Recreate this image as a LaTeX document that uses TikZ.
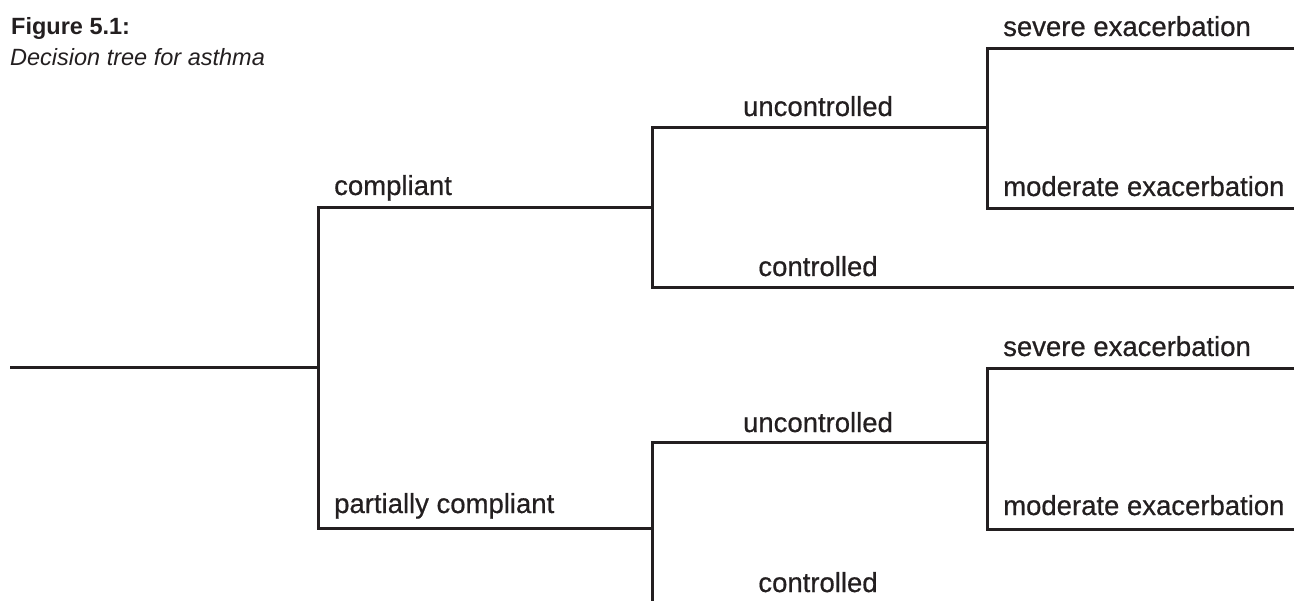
\documentclass[tikz,border=0pt]{standalone}
\usepackage{fontspec}
\setmainfont{Liberation Sans}
\newfontfamily\medfont{Liberation Sans}[FakeBold=0.6]
\definecolor{ink}{HTML}{231F20}
\begin{document}
\begin{tikzpicture}[x=1pt,y=-1pt,
  branch/.style={draw=ink,line width=3pt,line cap=butt,line join=miter},
  lbl/.style={anchor=base west,inner sep=0pt,text=ink,font=\medfont\fontsize{27.5}{30}\selectfont},
  clbl/.style={anchor=base,inner sep=0pt,text=ink,font=\medfont\fontsize{27.5}{30}\selectfont},
  ttl/.style={anchor=base west,inner sep=0pt,text=ink}]
\useasboundingbox (0,0) rectangle (1301,601);
% title
\node[ttl,font=\fontsize{23.5}{26}\selectfont\bfseries] (fig) at (11,35) {Figure 5.1:};
\node[ttl,font=\fontsize{23.5}{26}\selectfont\itshape] (cap) at (10,66) {Decision tree for asthma};
% coordinates
\coordinate (r0) at (10,368);
\coordinate (r1) at (318,368);
\coordinate (c0) at (318,208);
\coordinate (c1) at (652,208);
\coordinate (p0) at (318,528);
\coordinate (p1) at (652,528);
\coordinate (cu0) at (652,128);
\coordinate (cu1) at (987,128);
\coordinate (cc0) at (652,288);
\coordinate (cc1) at (1294,288);
\coordinate (cs0) at (987,49);
\coordinate (cs1) at (1294,49);
\coordinate (cm0) at (987,209);
\coordinate (cm1) at (1294,209);
\coordinate (pu0) at (652,442);
\coordinate (pu1) at (987,442);
\coordinate (pc0) at (652,601);
\coordinate (ps0) at (987,369);
\coordinate (ps1) at (1294,369);
\coordinate (pm0) at (987,529);
\coordinate (pm1) at (1294,529);
% tree
\draw[branch] (r0) -- (r1);
\draw[branch] (c1) -- (c0) -- (p0) -- (p1);
\draw[branch] (cu1) -- (cu0) -- (cc0) -- (cc1);
\draw[branch] (cs1) -- (cs0) -- (cm0) -- (cm1);
\draw[branch] (c1) -- (cu0);
\draw[branch] (pu1) -- (pu0) -- (pc0);
\draw[branch] (p1) -- (pu0);
\draw[branch] (ps1) -- (ps0) -- (pm0) -- (pm1);
% labels
\node[lbl] (compl) at (334,195) {compliant};
\node[lbl] (pcompl) at (334,513) {partially compliant};
\node[clbl] (unc1) at (818,116) {uncontrolled};
\node[clbl] (con1) at (818,276) {controlled};
\node[clbl] (unc2) at (818,432) {uncontrolled};
\node[clbl] (con2) at (818,592) {controlled};
\node[lbl] (sev1) at (1003,36) {severe exacerbation};
\node[lbl] (mod1) at (1003,196) {moderate exacerbation};
\node[lbl] (sev2) at (1003,356) {severe exacerbation};
\node[lbl] (mod2) at (1003,515) {moderate exacerbation};
\end{tikzpicture}
\end{document}
